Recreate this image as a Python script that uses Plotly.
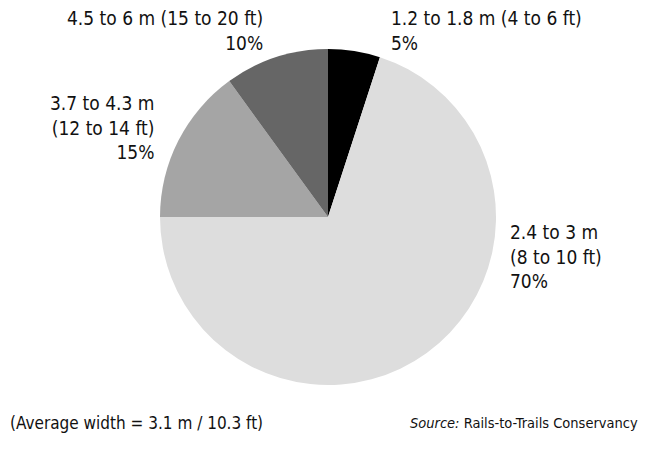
import plotly.graph_objects as go

labels = ["1.2 to 1.8 m (4 to 6 ft)", "2.4 to 3 m<br>(8 to 10 ft)", "3.7 to 4.3 m<br>(12 to 14 ft)", "4.5 to 6 m (15 to 20 ft)"]
values = [5, 70, 15, 10]
colors = ["#000000", "#dddddd", "#a5a5a5", "#666666"]
note_text = "(Average width = 3.1 m / 10.3 ft)"
source_text = "<i>Source:</i> Rails-to-Trails Conservancy"

FONT = "DejaVu Sans Condensed, Liberation Sans Narrow, sans-serif"
W, H = 649, 450

fig = go.Figure(go.Pie(
    labels=labels, values=values, sort=False, direction="clockwise", rotation=0,
    marker=dict(colors=colors, line=dict(width=0)),
    textinfo="none", hoverinfo="label+percent", showlegend=False,
    domain=dict(x=[160 / W, 496 / W], y=[1 - 385 / H, 1 - 49 / H]),
))

# label anchor positions (pixel) and alignment for each slice
label_pos = [(389, 5, "left"), (508, 219, "left"), (156, 90, "right"), (265, 5, "right")]
for lab, val, (px, py, al) in zip(labels, values, label_pos):
    fig.add_annotation(
        x=px / W, y=1 - py / H, xref="paper", yref="paper",
        xanchor="left" if al == "left" else "right", yanchor="top",
        align=al, showarrow=False,
        text=f"{lab}<br>{val}%",
        font=dict(family=FONT, size=19, color="#111111"),
    )

fig.add_annotation(x=8 / W, y=1 - 423 / H, xref="paper", yref="paper",
                   xanchor="left", yanchor="middle", showarrow=False,
                   text=note_text, font=dict(family=FONT, size=17, color="#111111"))
fig.add_annotation(x=640 / W, y=1 - 423 / H, xref="paper", yref="paper",
                   xanchor="right", yanchor="middle", showarrow=False,
                   text=source_text, font=dict(family=FONT, size=14.5, color="#111111"))

fig.update_layout(width=W, height=H, margin=dict(l=0, r=0, t=0, b=0),
                  paper_bgcolor="white", plot_bgcolor="white")
fig.write_html("out.html", config={"displayModeBar": False},
               post_script="document.body.style.margin='0';")
